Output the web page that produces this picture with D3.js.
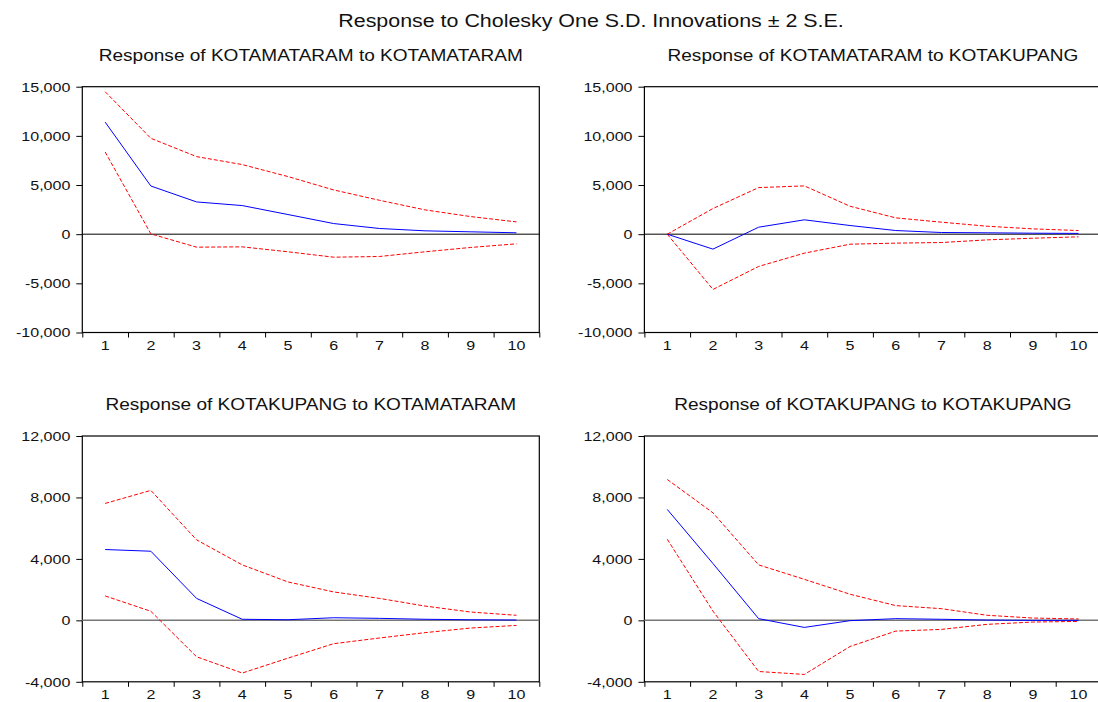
<!DOCTYPE html>
<html>
<head>
<meta charset="utf-8">
<script src="https://cdn.jsdelivr.net/npm/d3@7"></script>
<style>
  body { margin: 0; background: #fff; }
  text { font-family: "Liberation Sans", Arial, sans-serif; fill: #111; }
</style>
</head>
<body>
<div id="chart"></div>
<script>
// impulse response periods
const periods = [1, 2, 3, 4, 5, 6, 7, 8, 9, 10];

// KOTAMATARAM to KOTAMATARAM
const mmMM = [11400, 4900, 3280, 2910, 2000, 1080, 580, 340, 240, 140];
const mmMMUpper = [14490, 9750, 7890, 7080, 5860, 4500, 3450, 2470, 1790, 1250];
const mmMMLower = [8360, 30, -1320, -1290, -1790, -2340, -2270, -1790, -1350, -980];

// KOTAMATARAM to KOTAKUPANG
const mmKP = [0, -1520, 710, 1460, 880, 370, 170, 140, 100, 80];
const mmKPUpper = [0, 2610, 4740, 4910, 2840, 1660, 1220, 810, 540, 370];
const mmKPLower = [0, -5620, -3280, -1930, -1020, -910, -850, -580, -410, -270];

// KOTAKUPANG to KOTAMATARAM
const kpMM = [4610, 4500, 1430, 70, 40, 170, 130, 70, 40, 20];
const kpMMUpper = [7610, 8460, 5240, 3610, 2500, 1850, 1430, 930, 540, 330];
const kpMMLower = [1590, 590, -2370, -3430, -2460, -1520, -1150, -800, -500, -330];

// KOTAKUPANG to KOTAKUPANG
const kpKP = [7220, 3700, 110, -460, -20, 110, 70, 20, 0, 0];
const kpKPUpper = [9170, 7000, 3610, 2670, 1700, 960, 760, 330, 150, 90];
const kpKPLower = [5280, 600, -3330, -3520, -1700, -700, -590, -260, -110, -70];

const topTicks = [-10000, -5000, 0, 5000, 10000, 15000];
const bottomTicks = [-4000, 0, 4000, 8000, 12000];

const mainTitle = "Response to Cholesky One S.D. Innovations \u00b1 2 S.E.";

const W = 1098, H = 702;
const sx = 1.19; // the source picture is stretched sideways

const svg = d3.select("#chart")
  .append("svg")
  .attr("width", W)
  .attr("height", H);

const panels = [
  { title: "Response of KOTAMATARAM to KOTAMATARAM", resp: mmMM, upper: mmMMUpper, lower: mmMMLower,
    ticks: topTicks, left: 82.3, top: 86.7, zero: "#000", zw: 1 },
  { title: "Response of KOTAMATARAM to KOTAKUPANG", resp: mmKP, upper: mmKPUpper, lower: mmKPLower,
    ticks: topTicks, left: 644.4, top: 86.7, zero: "#000", zw: 1 },
  { title: "Response of KOTAKUPANG to KOTAMATARAM", resp: kpMM, upper: kpMMUpper, lower: kpMMLower,
    ticks: bottomTicks, left: 82.3, top: 436, zero: "#777", zw: 1.5 },
  { title: "Response of KOTAKUPANG to KOTAKUPANG", resp: kpKP, upper: kpKPUpper, lower: kpKPLower,
    ticks: bottomTicks, left: 644.4, top: 436, zero: "#777", zw: 1.5 }
];

const width = 457, height = 245.8;

svg.append("text")
  .attr("transform", `translate(591,27) scale(${sx},1)`)
  .attr("text-anchor", "middle")
  .style("font-size", "18px")
  .text(mainTitle);

const fmt = d => d3.format(",")(d).replace("\u2212", "-");

panels.forEach(p => {
  const g = svg.append("g").attr("transform", `translate(${p.left},${p.top})`);

  const x = d3.scaleBand().domain(periods).range([0, width]);
  const xb = d3.scaleLinear().domain([0, periods.length]).range([0, width]);
  const y = d3.scaleLinear().domain(d3.extent(p.ticks)).range([height, 0]);

  svg.append("text")
    .attr("transform", `translate(${p.left + width / 2},${p.top - 26}) scale(${sx},1)`)
    .attr("text-anchor", "middle")
    .style("font-size", "16px")
    .text(p.title);

  // y axis
  const yAxis = g.append("g")
    .call(d3.axisLeft(y).tickValues(p.ticks).tickSize(6).tickPadding(4).tickFormat(fmt));
  yAxis.select(".domain").remove();
  yAxis.selectAll("line").attr("stroke", "#000");
  yAxis.selectAll("text")
    .attr("transform", `scale(${sx},1)`)
    .style("font-size", "13.5px")
    .style("font-family", "'Liberation Sans', Arial, sans-serif");

  // x axis: tick marks between periods, labels at centres
  const xTicks = g.append("g")
    .attr("transform", `translate(0,${height})`)
    .call(d3.axisBottom(xb).tickValues(d3.range(periods.length + 1)).tickSize(5).tickFormat(""));
  xTicks.select(".domain").remove();
  xTicks.selectAll("line").attr("stroke", "#000");

  const xAxis = g.append("g")
    .attr("transform", `translate(0,${height})`)
    .call(d3.axisBottom(x).tickSize(0).tickPadding(8));
  xAxis.select(".domain").remove();
  xAxis.selectAll("text")
    .attr("transform", `scale(${sx},1)`)
    .style("font-size", "13.5px")
    .style("font-family", "'Liberation Sans', Arial, sans-serif");

  // frame
  g.append("rect")
    .attr("width", width)
    .attr("height", height)
    .attr("fill", "none")
    .attr("stroke", "#000")
    .attr("stroke-width", 1.2);

  g.append("line")
    .attr("x1", 0).attr("x2", width)
    .attr("y1", y(0)).attr("y2", y(0))
    .attr("stroke", p.zero)
    .attr("stroke-width", p.zw);

  const line = d3.line()
    .x((d, i) => x(periods[i]) + x.bandwidth() / 2)
    .y(d => y(d));

  [p.upper, p.lower].forEach(s => {
    g.append("path")
      .datum(s)
      .attr("fill", "none")
      .attr("stroke", "#ff0000")
      .attr("stroke-width", 1)
      .attr("stroke-dasharray", "4,2")
      .attr("d", line);
  });

  g.append("path")
    .datum(p.resp)
    .attr("fill", "none")
    .attr("stroke", "#0000ff")
    .attr("stroke-width", 1)
    .attr("d", line);
});
</script>
</body>
</html>
